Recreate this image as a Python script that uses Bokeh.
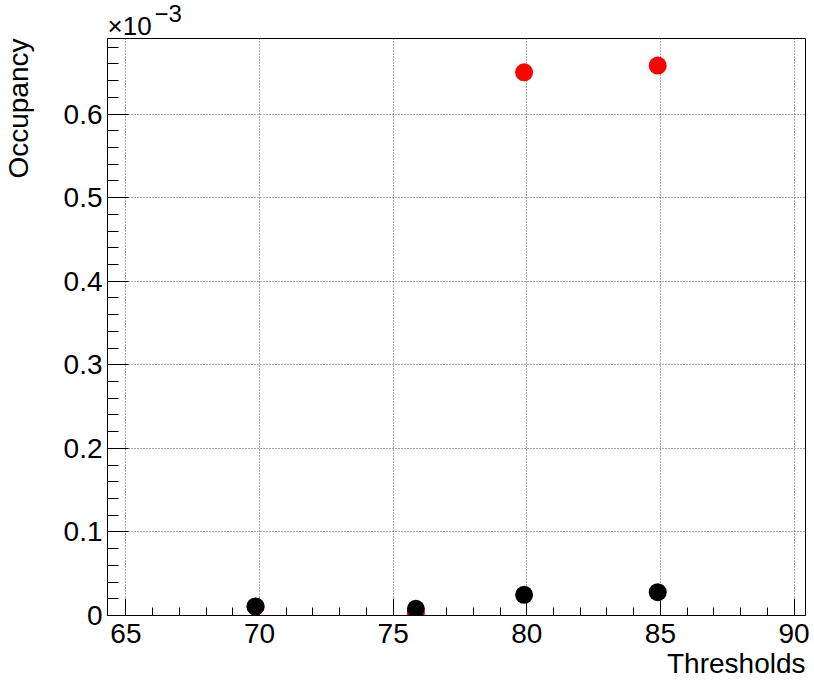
from bokeh.plotting import figure
from bokeh.models import (Range1d, SingleIntervalTicker, CustomJSTickFormatter,
                          Title, ColumnDataSource)
from bokeh.embed import file_html
from bokeh.resources import INLINE

# Occupancy per threshold, in units of 1e-3
thresholds = [69.85, 75.85, 79.9, 84.9]
occupancy_red = [0.0105, 0.0036, 0.650, 0.658]
occupancy_black = [0.0108, 0.0080, 0.0248, 0.0279]

FONT = "Liberation Sans"

p = figure(width=814, height=686, output_backend="svg", toolbar_location=None,
           x_range=Range1d(64.31, 90.43), y_range=Range1d(0, 0.6904),
           min_border_left=107, min_border_right=9, min_border_top=38,
           min_border_bottom=71)

p.background_fill_color = "white"
p.border_fill_color = "white"
p.outline_line_color = "black"
p.outline_line_width = 1

# axes with inward ticks
p.xaxis.ticker = SingleIntervalTicker(interval=5, num_minor_ticks=5)
p.yaxis.ticker = SingleIntervalTicker(interval=0.1, num_minor_ticks=5)
p.yaxis.formatter = CustomJSTickFormatter(
    code="return Math.abs(tick) < 1e-9 ? '0' : tick.toFixed(1);")

for ax in (p.xaxis[0], p.yaxis[0]):
    ax.major_tick_out = 0
    ax.minor_tick_out = 0
    ax.axis_line_color = "black"
    ax.major_tick_line_color = "black"
    ax.minor_tick_line_color = "black"
    ax.major_label_text_font = FONT
    ax.major_label_text_font_size = "28px"
    ax.major_label_text_color = "black"

p.xaxis.major_tick_in = 17
p.xaxis.minor_tick_in = 8
p.xaxis.major_label_standoff = 8
p.yaxis.major_tick_in = 21
p.yaxis.minor_tick_in = 11
p.yaxis.major_label_standoff = 5
# blank spacer label keeps the y title out by the left edge
p.yaxis.axis_label = " "
p.yaxis.axis_label_text_font_size = "1px"
p.yaxis.axis_label_standoff = 23

for g in (p.xgrid[0], p.ygrid[0]):
    g.grid_line_color = "#555555"
    g.grid_line_dash = "1 2"
    g.grid_line_width = 1

src_red = ColumnDataSource(dict(x=thresholds, y=occupancy_red))
src_black = ColumnDataSource(dict(x=thresholds, y=occupancy_black))
p.scatter("x", "y", source=src_red, size=18, fill_color="#ff0000", line_color=None)
p.scatter("x", "y", source=src_black, size=18, fill_color="black", line_color=None)

# axis titles and the exponent of the y axis
def side_title(text, size, align, standoff, offset=0):
    return Title(text=text, align=align, text_font=FONT, text_font_size=size,
                 text_font_style="normal", text_color="black",
                 standoff=standoff, offset=offset)

p.add_layout(side_title("Thresholds", "28px", "right", 0), "below")
p.add_layout(side_title("Occupancy", "28px", "right", 0), "left")
p.add_layout(side_title("\u00d710", "26px", "left", -4), "above")
p.add_layout(side_title("\u22123", "24px", "left", -22, offset=47), "above")

open("out.html", "w").write(file_html(p, INLINE))
